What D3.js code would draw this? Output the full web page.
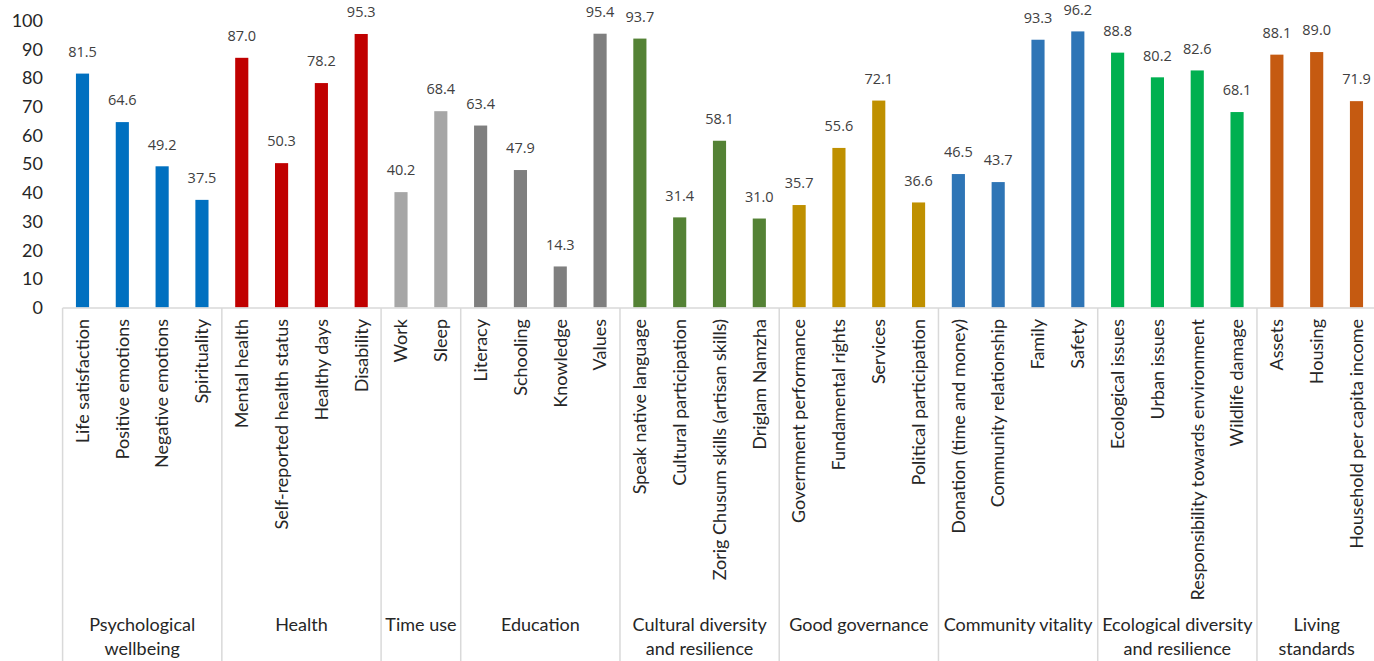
<!DOCTYPE html>
<html>
<head>
<meta charset="utf-8">
<script src="https://cdn.jsdelivr.net/npm/d3@7"></script>
<style>
  html, body { margin: 0; padding: 0; background: #fff; }
  svg { display: block; }
  .tick-label { font-family: Lato, "Noto Sans", sans-serif; font-size: 18px; fill: #262626; }
  .cat-label { font-family: Lato, "Noto Sans", sans-serif; font-size: 18px; fill: #262626; }
  .group-label { font-family: Lato, "Noto Sans", sans-serif; font-size: 18px; fill: #262626; }
  .value-label { font-family: "Open Sans", "DejaVu Sans", sans-serif; font-size: 14.5px; fill: #404040; }
</style>
</head>
<body>
<svg id="chart" width="1374" height="661"></svg>
<script>
// GNH indicator scores, grouped by domain
const domains = [
  "Psychological wellbeing", "Health", "Time use", "Education",
  "Cultural diversity and resilience", "Good governance", "Community vitality",
  "Ecological diversity and resilience", "Living standards"
];
const domainLines = [
  ["Psychological", "wellbeing"], ["Health"], ["Time use"], ["Education"],
  ["Cultural diversity", "and resilience"], ["Good governance"], ["Community vitality"],
  ["Ecological diversity", "and resilience"], ["Living", "standards"]
];
const domainColors = [
  "#0070C0", "#C00000", "#A6A6A6", "#7F7F7F", "#548235",
  "#BF9000", "#2E75B6", "#00B050", "#C55A11"
];
const indicators = [
  "Life satisfaction", "Positive emotions", "Negative emotions", "Spirituality",
  "Mental health", "Self-reported health status", "Healthy days", "Disability",
  "Work", "Sleep",
  "Literacy", "Schooling", "Knowledge", "Values",
  "Speak native language", "Cultural participation", "Zorig Chusum skills (artisan skills)", "Driglam Namzha",
  "Government performance", "Fundamental rights", "Services", "Political participation",
  "Donation (time and money)", "Community relationship", "Family", "Safety",
  "Ecological issues", "Urban issues", "Responsibility towards environment", "Wildlife damage",
  "Assets", "Housing", "Household per capita income"
];
const indicatorDomain = [
  0, 0, 0, 0,
  1, 1, 1, 1,
  2, 2,
  3, 3, 3, 3,
  4, 4, 4, 4,
  5, 5, 5, 5,
  6, 6, 6, 6,
  7, 7, 7, 7,
  8, 8, 8
];
const scores = [
  81.5, 64.6, 49.2, 37.5,
  87.0, 50.3, 78.2, 95.3,
  40.2, 68.4,
  63.4, 47.9, 14.3, 95.4,
  93.7, 31.4, 58.1, 31.0,
  35.7, 55.6, 72.1, 36.6,
  46.5, 43.7, 93.3, 96.2,
  88.8, 80.2, 82.6, 68.1,
  88.1, 89.0, 71.9
];
const yTicks = [0, 10, 20, 30, 40, 50, 60, 70, 80, 90, 100];

const svg = d3.select("#chart");
const W = 1374, H = 661;
const plotLeft = 62.6, plotRight = 1376.4, plotBase = 307.5, plotTop = 20.5;

const x = d3.scaleBand()
  .domain(d3.range(indicators.length))
  .range([plotLeft, plotRight])
  .paddingInner(0.67)
  .paddingOuter(0.335);
const step = x.step();
const y = d3.scaleLinear().domain([0, 100]).range([plotBase, plotTop]);

// value axis labels (no line, no tick marks)
svg.append("g").selectAll("text")
  .data(yTicks)
  .join("text")
  .attr("class", "tick-label")
  .attr("x", 43)
  .attr("y", d => y(d))
  .attr("dy", "0.36em")
  .attr("text-anchor", "end")
  .text(d => d);

// bars
svg.append("g").selectAll("rect")
  .data(scores)
  .join("rect")
  .attr("x", (d, i) => x(i))
  .attr("width", x.bandwidth())
  .attr("y", d => y(d))
  .attr("height", d => plotBase - y(d))
  .attr("fill", (d, i) => domainColors[indicatorDomain[i]]);

// value labels above bars
svg.append("g").selectAll("text")
  .data(scores)
  .join("text")
  .attr("class", "value-label")
  .attr("x", (d, i) => x(i) + x.bandwidth() / 2)
  .attr("y", d => y(d) - 22)
  .attr("dy", "0.36em")
  .attr("text-anchor", "middle")
  .text(d => d.toFixed(1));

// category axis line and domain separators
const axisColor = "#D9D9D9";
svg.append("line")
  .attr("x1", plotLeft).attr("x2", W)
  .attr("y1", plotBase + 0.5).attr("y2", plotBase + 0.5)
  .attr("stroke", axisColor).attr("stroke-width", 1.5);

// domain spans from the indicator→domain mapping
const spans = domains.map((name, di) => {
  const idx = indicatorDomain.map((d, i) => d === di ? i : -1).filter(i => i >= 0);
  const start = x(idx[0]) - step * x.paddingOuter();
  const end = start + idx.length * step;
  return { di, start, end };
});
const bounds = [spans[0].start].concat(spans.map(s => s.end));
svg.append("g").selectAll("line")
  .data(bounds)
  .join("line")
  .attr("x1", d => d).attr("x2", d => d)
  .attr("y1", plotBase + 0.5).attr("y2", H)
  .attr("stroke", axisColor).attr("stroke-width", 1.5);

// rotated indicator labels
svg.append("g").selectAll("text")
  .data(indicators)
  .join("text")
  .attr("class", "cat-label")
  .attr("text-anchor", "end")
  .attr("dy", "0.35em")
  .attr("transform", (d, i) => `translate(${x(i) + x.bandwidth() / 2},319) rotate(-90)`)
  .text(d => d);

// domain labels
const gl = svg.append("g").selectAll("text")
  .data(spans)
  .join("text")
  .attr("class", "group-label")
  .attr("text-anchor", "middle")
  .attr("x", s => (s.start + s.end) / 2)
  .attr("y", 625);
gl.selectAll("tspan")
  .data(s => domainLines[s.di].map(t => ({ t, x: (s.start + s.end) / 2 })))
  .join("tspan")
  .attr("x", d => d.x)
  .attr("dy", (d, i) => i === 0 ? "0.35em" : "24px")
  .text(d => d.t);
</script>
</body>
</html>
